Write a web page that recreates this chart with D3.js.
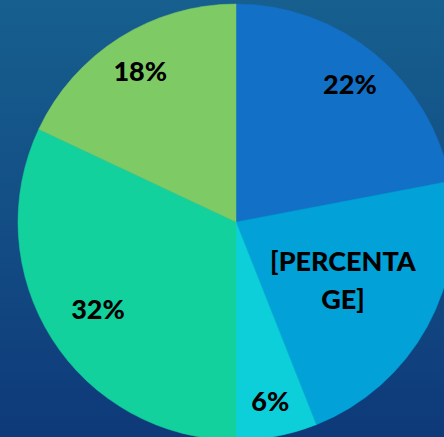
<!DOCTYPE html>
<html>
<head>
<meta charset="utf-8">
<script src="https://cdn.jsdelivr.net/npm/d3@7"></script>
<style>
  html, body { margin: 0; padding: 0; overflow: hidden; }
  svg { display: block; }
</style>
</head>
<body>
<div id="chart"></div>
<script>
// slices clockwise from 12 o'clock
const categories = ["A", "B", "C", "D", "E"];
const values = [22, 22, 6, 32, 18];
const labels = ["22%", "[PERCENTAGE]", "6%", "32%", "18%"];
const colors = ["#1270C7", "#02A1D7", "#0CCFD9", "#12D19D", "#7ECB66"];

const width = 444;
const height = 437;
const cx = 236;
const cy = 222;
const radius = 218;
// where each label sits, as a share of the radius
const labelFactor = [0.82, 0.56, 0.84, 0.75, 0.82];

const svg = d3
  .select("#chart")
  .append("svg")
  .attr("width", width)
  .attr("height", height);

const defs = svg.append("defs");
const bg = defs
  .append("linearGradient")
  .attr("id", "bg")
  .attr("x1", 0)
  .attr("y1", 0)
  .attr("x2", 0)
  .attr("y2", 1);
bg.append("stop").attr("offset", "0%").attr("stop-color", "#165F8E");
bg.append("stop").attr("offset", "55%").attr("stop-color", "#134C84");
bg.append("stop").attr("offset", "100%").attr("stop-color", "#0E3979");

svg
  .append("rect")
  .attr("width", width)
  .attr("height", height)
  .attr("fill", "url(#bg)");

const pie = d3
  .pie()
  .sort(null)
  .value((d) => d.value);

const arcs = pie(categories.map((c, i) => ({ name: c, value: values[i], i })));

const arc = d3.arc().innerRadius(0).outerRadius(radius);

const g = svg.append("g").attr("transform", `translate(${cx},${cy})`);

g.selectAll("path.slice")
  .data(arcs)
  .enter()
  .append("path")
  .attr("class", "slice")
  .attr("d", arc)
  .attr("fill", (d) => colors[d.data.i])
  .attr("stroke", (d) => colors[d.data.i])
  .attr("stroke-width", 0.5);

// labels
arcs.forEach((d) => {
  const i = d.data.i;
  const r = radius * labelFactor[i];
  const la = d3.arc().innerRadius(r).outerRadius(r);
  const [x, y] = la.centroid(d);
  const text = g
    .append("text")
    .attr("x", x)
    .attr("text-anchor", "middle")
    .style("font-family", "Lato, 'Open Sans', sans-serif")
    .style("font-weight", "900")
    .style("font-size", "27px")
    .attr("fill", "#000");

  if (labels[i].length > 8) {
    // the long label wraps in two lines like the original
    const parts = [labels[i].slice(0, 9), labels[i].slice(9)];
    const lh = 38;
    parts.forEach((p, k) => {
      text
        .append("tspan")
        .attr("x", x)
        .attr("y", y - lh / 2 + k * lh)
        .attr("dy", "0.35em")
        .text(p);
    });
  } else {
    text.attr("y", y).attr("dy", "0.35em").text(labels[i]);
  }
});
</script>
</body>
</html>
